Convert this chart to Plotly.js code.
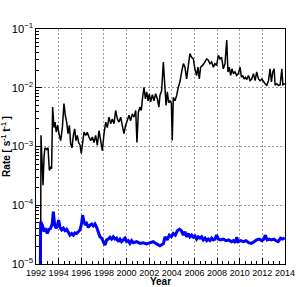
<!DOCTYPE html>
<html>
<head>
<meta charset="utf-8">
<script src="https://cdn.plot.ly/plotly-3.0.1.min.js"></script>
<style>html,body{margin:0;padding:0;background:#fff;}#chart{width:300px;height:287px;}</style>
</head>
<body>
<div id="chart"></div>
<script>
// Black series (total rate)
const yearsA = [1992.38,1992.44,1992.53,1992.62,1992.71,1992.79,1992.94,1993.06,1993.18,1993.30,1993.38,1993.47,1993.59,1993.68,1993.79,1993.91,1994.03,1994.18,1994.33,1994.47,1994.59,1994.71,1994.83,1994.95,1995.06,1995.18,1995.30,1995.42,1995.53,1995.65,1995.77,1995.89,1996.00,1996.12,1996.24,1996.39,1996.53,1996.68,1996.83,1996.98,1997.12,1997.27,1997.42,1997.57,1997.71,1997.86,1998.01,1998.16,1998.30,1998.45,1998.60,1998.74,1998.89,1999.04,1999.19,1999.33,1999.48,1999.63,1999.77,1999.92,2000.07,2000.22,2000.36,2000.51,2000.66,2000.81,2000.92,2001.04,2001.19,2001.30,2001.42,2001.54,2001.66,2001.78,2001.90,2002.01,2002.13,2002.28,2002.42,2002.57,2002.72,2002.86,2002.95,2003.10,2003.25,2003.37,2003.49,2003.60,2003.72,2003.84,2003.96,2004.04,2004.13,2004.28,2004.43,2004.57,2004.72,2004.87,2005.02,2005.16,2005.31,2005.46,2005.60,2005.75,2005.90,2006.04,2006.19,2006.31,2006.43,2006.54,2006.72,2006.93,2007.08,2007.22,2007.37,2007.52,2007.67,2007.81,2007.96,2008.11,2008.26,2008.40,2008.55,2008.70,2008.85,2008.96,2009.08,2009.20,2009.32,2009.44,2009.58,2009.73,2009.88,2010.03,2010.15,2010.27,2010.38,2010.50,2010.62,2010.77,2010.91,2011.06,2011.21,2011.36,2011.50,2011.65,2011.80,2011.95,2012.09,2012.24,2012.39,2012.54,2012.68,2012.80,2012.92,2013.04,2013.13,2013.28,2013.42,2013.57,2013.72,2013.81,2014.0];
const rateA = [1e-7,1.55e-3,5.75e-4,2.19e-4,6.6e-4,9.5e-4,8.9e-4,9.5e-4,3.9e-4,4.5e-4,4.2e-4,4.7e-3,2.1e-3,2.6e-3,1.75e-3,2.3e-3,1.66e-3,1.26e-3,2.1e-3,5.4e-3,3.4e-3,2.6e-3,1.66e-3,2.3e-3,1.12e-3,9.5e-4,1.55e-3,2.0e-3,1.26e-3,1.55e-3,1.17e-3,1.05e-3,7.6e-4,1.26e-3,1.75e-3,1.55e-3,1.75e-3,1.45e-3,1.26e-3,1.45e-3,1.17e-3,1.55e-3,1.05e-3,1.86e-3,1.17e-3,8.5e-4,1.66e-3,2.6e-3,2.1e-3,3.16e-3,2.45e-3,2.95e-3,2.45e-3,4.1e-3,2.95e-3,2.6e-3,3.16e-3,2.1e-3,1.66e-3,2.3e-3,2.95e-3,3.4e-3,2.75e-3,3.6e-3,3.16e-3,4.1e-3,1.17e-3,3.8e-3,4.7e-3,4.1e-3,6.9e-3,1.02e-2,6.5e-3,8.5e-3,6.0e-3,7.9e-3,5.75e-3,7.6e-3,6.0e-3,7.9e-3,6.5e-3,4.7e-3,7.4e-3,8.9e-3,2.75e-2,1.26e-2,5.0e-3,8.5e-3,5.6e-3,6.0e-3,5.4e-3,1.26e-3,6.9e-3,6.0e-3,7.4e-3,1.02e-2,1.26e-2,1.86e-2,2.57e-2,2.24e-2,1.41e-2,2.4e-2,3.8e-2,3.3e-2,3.1e-2,2.1e-2,1.62e-2,2.24e-2,1.41e-2,2.24e-2,2.4e-2,2.75e-2,3.1e-2,2.95e-2,2.57e-2,2.75e-2,2.24e-2,2.57e-2,2.4e-2,3.55e-2,3.1e-2,3.3e-2,2.1e-2,2.57e-2,6.5e-2,1.86e-2,2.24e-2,1.62e-2,2.1e-2,1.74e-2,1.86e-2,1.62e-2,1.74e-2,2.24e-2,1.51e-2,1.62e-2,1.41e-2,1.51e-2,1.38e-2,1.62e-2,1.32e-2,1.41e-2,1.74e-2,1.32e-2,1.86e-2,1.41e-2,1.32e-2,1.41e-2,1.26e-2,1.17e-2,1.1e-2,1.32e-2,2.1e-2,1.26e-2,1.86e-2,2.1e-2,1.1e-2,1.17e-2,1.1e-2,1.12e-2,2.1e-2,1.12e-2,1.17e-2];

// Blue series
const yearsB = [1992.33,1992.41,1992.56,1992.71,1992.85,1993.00,1993.15,1993.30,1993.44,1993.53,1993.65,1993.77,1993.88,1994.00,1994.12,1994.27,1994.42,1994.56,1994.71,1994.86,1995.00,1995.15,1995.30,1995.44,1995.59,1995.74,1995.89,1996.03,1996.12,1996.24,1996.36,1996.47,1996.62,1996.77,1996.92,1997.06,1997.21,1997.36,1997.50,1997.65,1997.80,1997.95,1998.09,1998.24,1998.39,1998.53,1998.68,1998.83,1998.98,1999.12,1999.27,1999.42,1999.56,1999.71,1999.86,2000.00,2000.15,2000.30,2000.45,2000.60,2000.90,2001.19,2001.48,2001.78,2002.07,2002.36,2002.66,2002.95,2003.25,2003.40,2003.60,2003.78,2003.96,2004.13,2004.31,2004.49,2004.66,2004.84,2005.01,2005.16,2005.31,2005.46,2005.60,2005.75,2005.90,2006.05,2006.19,2006.34,2006.49,2006.64,2006.78,2006.93,2007.08,2007.22,2007.37,2007.52,2007.67,2007.81,2007.96,2008.11,2008.32,2008.55,2008.79,2009.02,2009.26,2009.43,2009.61,2009.73,2009.87,2010.08,2010.32,2010.55,2010.79,2011.02,2011.26,2011.49,2011.73,2011.96,2012.14,2012.25,2012.43,2012.61,2012.81,2013.02,2013.20,2013.40,2013.61,2013.79,2013.97];
const rateB = [1e-7,5.25e-5,4.6e-5,3.55e-5,4.07e-5,3.3e-5,3.9e-5,4.07e-5,4.9e-5,7.8e-5,4.6e-5,4.07e-5,4.45e-5,5.6e-5,4.2e-5,3.8e-5,4.07e-5,3.7e-5,3.9e-5,3.55e-5,3.1e-5,3.3e-5,3.1e-5,3.4e-5,3.3e-5,3.55e-5,3.8e-5,4.9e-5,6.8e-5,5.25e-5,4.6e-5,4.9e-5,4.2e-5,4.6e-5,4.8e-5,4.45e-5,4.8e-5,4.2e-5,3.55e-5,2.9e-5,2.75e-5,2.4e-5,2.1e-5,2.57e-5,2.65e-5,2.85e-5,2.65e-5,2.9e-5,2.65e-5,2.75e-5,2.4e-5,2.65e-5,2.4e-5,2.57e-5,2.75e-5,2.4e-5,2.5e-5,2.24e-5,2.5e-5,2.3e-5,2.4e-5,2.24e-5,2.3e-5,2.2e-5,2.3e-5,2.4e-5,2.2e-5,2.04e-5,2.2e-5,2.9e-5,2.57e-5,3.1e-5,2.9e-5,3.3e-5,3.1e-5,3.7e-5,3.9e-5,3.7e-5,3.1e-5,3.55e-5,2.9e-5,3.3e-5,2.9e-5,3.1e-5,2.85e-5,3.0e-5,2.65e-5,2.9e-5,2.75e-5,2.9e-5,2.57e-5,2.75e-5,2.5e-5,2.65e-5,2.5e-5,2.75e-5,2.57e-5,2.65e-5,3.1e-5,2.65e-5,2.57e-5,2.65e-5,2.5e-5,2.57e-5,2.4e-5,2.5e-5,2.3e-5,2.85e-5,2.4e-5,2.5e-5,2.4e-5,2.5e-5,2.3e-5,2.24e-5,2.4e-5,2.57e-5,2.65e-5,2.5e-5,2.65e-5,3.1e-5,2.57e-5,2.65e-5,2.57e-5,2.65e-5,2.5e-5,2.4e-5,2.75e-5,2.65e-5,2.8e-5];

const xTicks = [1992,1994,1996,1998,2000,2002,2004,2006,2008,2010,2012,2014];
const xTickText = ['1992','1994','1996','1998','2000','2002','2004','2006','2008','2010','2012','2014'];

const FONT = 'Liberation Sans, Arial, Helvetica, sans-serif';

const traces = [
  {x: yearsA, y: rateA, type: 'scatter', mode: 'lines', line: {color: '#000000', width: 1.5}, hoverinfo: 'skip', cliponaxis: true},
  {x: yearsB, y: rateB, type: 'scatter', mode: 'lines', line: {color: '#0000ff', width: 3}, hoverinfo: 'skip', cliponaxis: true}
];

const layout = {
  width: 300, height: 287,
  margin: {l: 36, r: 15, t: 29, b: 23, pad: 0},
  paper_bgcolor: '#ffffff', plot_bgcolor: '#ffffff',
  showlegend: false,
  font: {family: FONT, color: '#000', size: 9},
  xaxis: {
    range: [1992, 2014], tickmode: 'array', tickvals: xTicks, ticktext: xTickText,
    ticks: 'inside', ticklen: 6, tickcolor: '#000', tickwidth: 1,
    showline: true, linecolor: '#000', linewidth: 1, mirror: true,
    showgrid: true, gridcolor: '#9a9a9a', gridwidth: 1, griddash: '2px,2px',
    zeroline: false, tickfont: {family: FONT, size: 9, color: '#000'},
    minor: {ticks: 'inside', ticklen: 3, tickcolor: '#000', dtick: 0.5, showgrid: false},
    title: {text: '<b>Year</b>', font: {family: FONT, size: 10, color: '#000'}, standoff: 2}
  },
  yaxis: {
    type: 'log', range: [-5, -1], dtick: 1, exponentformat: 'power', showexponent: 'all',
    ticks: 'inside', ticklen: 6, tickcolor: '#000', tickwidth: 1,
    showline: true, linecolor: '#000', linewidth: 1, mirror: true,
    showgrid: true, gridcolor: '#9a9a9a', gridwidth: 1, griddash: '2px,2px',
    zeroline: false, tickfont: {family: FONT, size: 9, color: '#000'},
    minor: {ticks: 'inside', ticklen: 3, tickcolor: '#000', dtick: 'D1', showgrid: false},
    title: {text: '<b>Rate [ s<sup>-1</sup> t<sup>-1</sup> ]</b>', font: {family: FONT, size: 10, color: '#000'}, standoff: 4}
  }
};

Plotly.newPlot('chart', traces, layout, {staticPlot: true, displayModeBar: false});
</script>
</body>
</html>
